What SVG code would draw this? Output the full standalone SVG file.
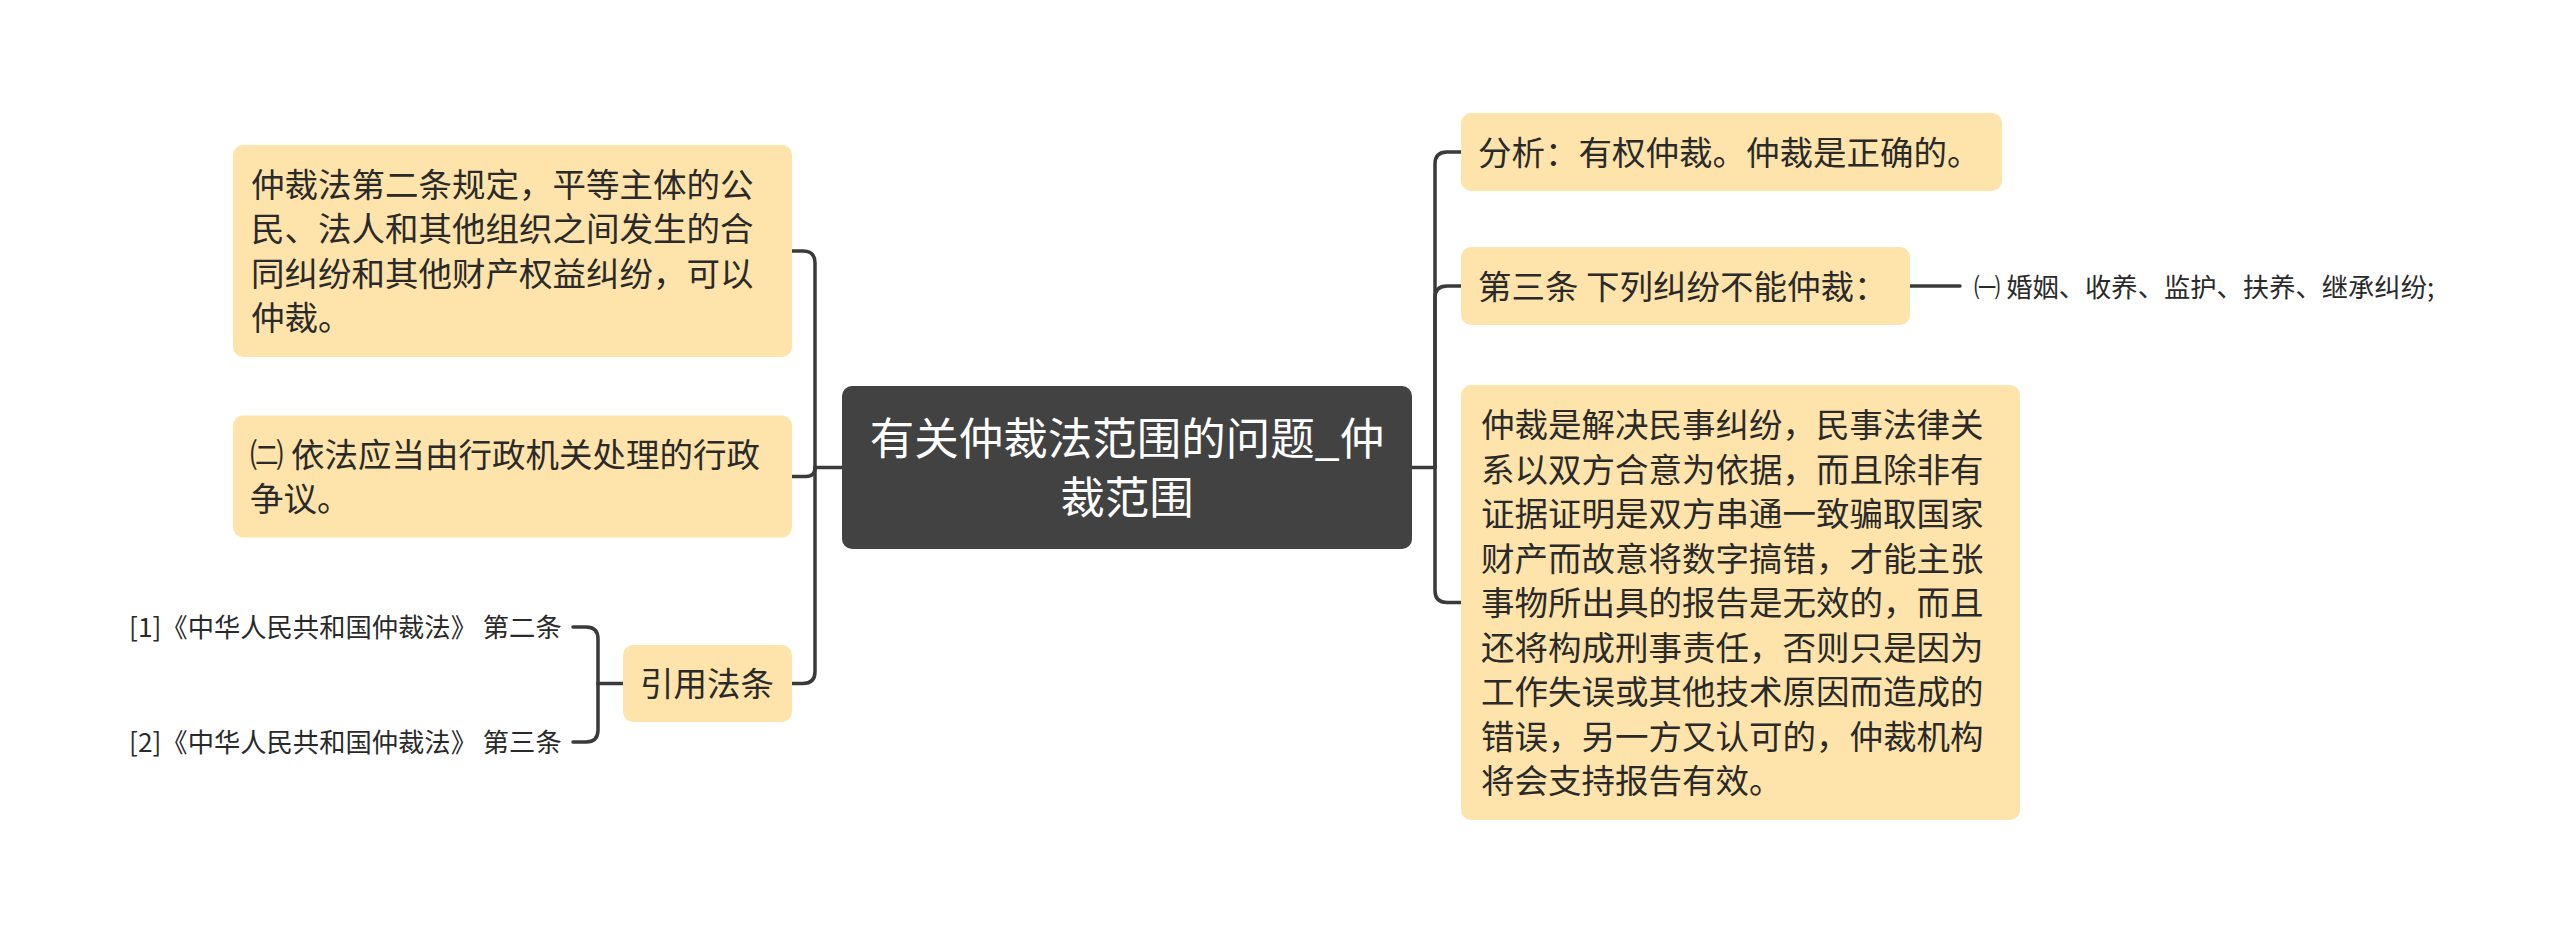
<svg xmlns="http://www.w3.org/2000/svg" width="2560" height="935" viewBox="0 0 2560 935">
<defs>
<style>
.node{fill:#FEE3AA;}
.root{fill:#424242;}
.t{font-family:"Noto Sans CJK SC","Noto Sans",sans-serif;font-size:33.5px;fill:#2a2a2a;}
.rt{font-family:"Noto Sans CJK SC","Noto Sans",sans-serif;font-size:44.5px;fill:#ffffff;text-anchor:middle;}
.s{font-family:"Noto Sans CJK SC","Noto Sans",sans-serif;font-size:26.3px;fill:#2a2a2a;}
.c{fill:none;stroke:#3a3a3a;stroke-width:3.5;stroke-linecap:round;stroke-linejoin:round;}
</style>
</defs>
<rect width="2560" height="935" fill="#ffffff"/>
<g id="connectors">
<path class="c" d="M842,467.5 H815"/>
<path class="c" d="M815,467.5 V263 Q815,251 803,251 H792"/>
<path class="c" d="M815,467.5 Q815,476.5 806,476.5 H792"/>
<path class="c" d="M815,467.5 V671.5 Q815,683.5 803,683.5 H792"/>
<path class="c" d="M1412,467.5 H1435"/>
<path class="c" d="M1435,467.5 V164 Q1435,152 1447,152 H1461"/>
<path class="c" d="M1435,467.5 V298 Q1435,286 1447,286 H1461"/>
<path class="c" d="M1435,467.5 V590.5 Q1435,602.5 1447,602.5 H1461"/>
<path class="c" d="M1910,286 H1960"/>
<path class="c" d="M623,683.5 H598"/>
<path class="c" d="M598,683.5 V639 Q598,627 586,627 H573"/>
<path class="c" d="M598,683.5 V730 Q598,742 586,742 H573"/>
</g>
<g id="root">
<rect class="root" x="842" y="386" width="570" height="163" rx="10"/>
<text class="rt" x="1127" y="455">有关仲裁法范围的问题_仲</text>
<text class="rt" x="1127" y="514">裁范围</text>
</g>
<g id="node-art2">
<rect class="node" x="233" y="145" width="559" height="212" rx="10"/>
<text class="t" x="251" y="197">仲裁法第二条规定，平等主体的公</text>
<text class="t" x="251" y="241">民、法人和其他组织之间发生的合</text>
<text class="t" x="251" y="286">同纠纷和其他财产权益纠纷，可以</text>
<text class="t" x="251" y="330">仲裁。</text>
</g>
<g id="node-admin">
<rect class="node" x="233" y="415.5" width="559" height="122" rx="10"/>
<text class="t" x="250" y="467">㈡ 依法应当由行政机关处理的行政</text>
<text class="t" x="250" y="511">争议。</text>
</g>
<g id="node-cite">
<rect class="node" x="623" y="645" width="169" height="77" rx="10"/>
<text class="t" x="640" y="696">引用法条</text>
</g>
<g id="node-cite1">
<text class="s" x="129" y="637">[1]《中华人民共和国仲裁法》 第二条</text>
</g>
<g id="node-cite2">
<text class="s" x="129" y="752">[2]《中华人民共和国仲裁法》 第三条</text>
</g>
<g id="node-analysis">
<rect class="node" x="1461" y="113" width="541" height="78" rx="10"/>
<text class="t" x="1478" y="164.5">分析：有权仲裁。仲裁是正确的。</text>
</g>
<g id="node-art3">
<rect class="node" x="1461" y="247" width="449" height="78" rx="10"/>
<text class="t" x="1478" y="298.5">第三条 下列纠纷不能仲裁：</text>
</g>
<g id="node-art3-1">
<text class="s" x="1974" y="297">㈠ 婚姻、收养、监护、扶养、继承纠纷;</text>
</g>
<g id="node-explain">
<rect class="node" x="1461" y="385" width="559" height="435" rx="10"/>
<text class="t" x="1481" y="437">仲裁是解决民事纠纷，民事法律关</text>
<text class="t" x="1481" y="481.5">系以双方合意为依据，而且除非有</text>
<text class="t" x="1481" y="526">证据证明是双方串通一致骗取国家</text>
<text class="t" x="1481" y="570.5">财产而故意将数字搞错，才能主张</text>
<text class="t" x="1481" y="615">事物所出具的报告是无效的，而且</text>
<text class="t" x="1481" y="659.5">还将构成刑事责任，否则只是因为</text>
<text class="t" x="1481" y="704">工作失误或其他技术原因而造成的</text>
<text class="t" x="1481" y="748.5">错误，另一方又认可的，仲裁机构</text>
<text class="t" x="1481" y="793">将会支持报告有效。</text>
</g>
</svg>
